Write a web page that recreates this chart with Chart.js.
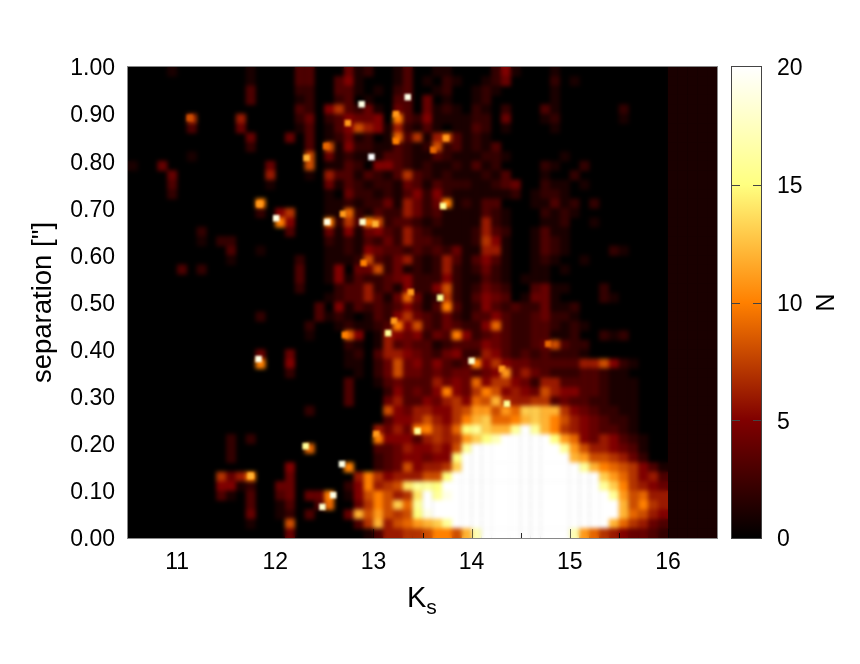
<!DOCTYPE html>
<html>
<head>
<meta charset="utf-8">
<script src="https://cdn.jsdelivr.net/npm/chart.js@4"></script>
<style>
    body { margin: 0; background: #fff; }
    #wrap { position: relative; width: 860px; height: 664px; font-family: "Liberation Sans", sans-serif; color: #000; }
    canvas { position: absolute; top: 0; }
    #xTitle { position: absolute; left: 407px; top: 578px; font-size: 29px; line-height: 38px; }
    #xTitle sub { font-size: 21px; line-height: 0; }
</style>
</head>
<body>
<div id="wrap">
    <canvas id="map" width="860" height="664" style="left:0"></canvas>
    <canvas id="bar" width="140" height="664" style="left:720px"></canvas>
    <div id="xTitle">K<sub>s</sub></div>
</div>
<script>
const kTicks = [11, 12, 13, 14, 15, 16];
const sepTicks = [0, 0.1, 0.2, 0.3, 0.4, 0.5, 0.6, 0.7, 0.8, 0.9, 1];
const nTicks = [0, 5, 10, 15, 20];

const kStart = 10.5;
const kEnd = 16;
const kStep = 0.1;
const sepStep = 0.02;

// counts per cell, top row first, one base-21 digit per cell (a=10 ... k=20)
const nRows = [
    "0000100000 0010000330 0041200130 0110000251 0001000000 00000",
    "0000000000 0010000330 0351000130 1021001240 0002010000 00000",
    "0000000000 0030000220 0331010230 0120012100 0001000000 00000",
    "0000000000 0030000120 0230100330 4010012000 0001000000 00000",
    "0000000000 0000000320 5732410430 4121021020 0031000000 20000",
    "0000007000 0600000240 2354450a32 5111122040 0012000000 10000",
    "0000003000 0400000130 1358651621 3101132010 0001000000 00000",
    "0000000000 0040004030 1241201937 1683121000 0000000000 00000",
    "0000000000 0020000030 8152211321 2823121300 0000000000 00000",
    "0000001000 0000000080 4121113321 1321112210 0000100000 00000",
    "1004000000 0000400080 1132055321 2112131200 0021002000 00000",
    "0000400000 0000600010 6331321373 2121112130 0010020000 00000",
    "0000300000 0000100000 4132122143 1322211234 0021101000 00000",
    "0000200000 0000000000 1042212135 2521111112 0122100000 00000",
    "0000000000 000a000000 1121224164 24a1213300 0113120200 00000",
    "0000000000 0002057000 1192132264 2311113210 0021210000 00000",
    "0000000000 00000a5000 a273a82332 1211116210 0011200100 00000",
    "0000000200 0000003000 4151453263 2111126320 0131100000 00000",
    "0000000102 2000000000 2121324263 3211127510 0132100000 00000",
    "0000000000 3001000000 1121543323 2324116610 0132100002 10000",
    "0000000000 1000000200 1112832462 1263135310 0121001000 00000",
    "0000030200 0000000300 1504482412 1262124210 0110100000 00000",
    "0000000000 0000000300 1513223452 2252113210 1110000000 00000",
    "0000000000 0000000200 0233623152 2582124320 0341100020 00000",
    "0000000000 0000000000 1233631494 1272135430 1441000021 00000",
    "0000000000 0000000003 0513232353 13a3125323 2241120000 00000",
    "0000000000 0002000003 1210132574 3242133532 2342210000 00000",
    "0000000000 0000000020 0121123a58 3243225932 2332121000 00000",
    "0000000000 0000000010 0095016545 243a523432 2331120021 20000",
    "0000000000 0000000000 0021016343 3123335432 2348322000 00000",
    "0000000000 0004004000 0012036654 3245226532 3232221000 00000",
    "0000000000 000a005000 0011024845 35323a5754 4333336685 21000",
    "0000000000 0000002000 0001024844 34344345b4 6432223321 10000",
    "0000000000 0000000000 0030013433 3645495775 4266333321 11000",
    "0000000000 0000000000 0030002534 35a547a856 5486553321 11000",
    "0000000000 0000000000 0030004633 5467598c76 6773433221 11000",
    "0000000000 0000000020 0000008546 65578bb8b9 ddcc754322 11000",
    "0000000000 0000000000 0000003556 8657acd99a cdca865432 21000",
    "0000000000 0000000000 000006464a a769fgdccg kgca765433 21000",
    "0000000000 2020000000 00000a5553 6767bdfhkk kkkfb95465 32100",
    "0000000000 2000000090 0000033465 5658gkkkkk kkkkgb8665 43100",
    "0000000000 2000000000 0000023455 455fkkkkkk kkkkkcb887 64200",
    "0000000000 0000005000 00a0023485 667dkkkkkk kkkkkkgca9 87531",
    "0000000007 46a0004000 0006a75666 88fkkkkkkk kkkkkkkkdb 97563",
    "0000000005 5120044000 0025a678eg gfkkkkkkkk kkkkkkkkgd a7654",
    "0000000003 1030034044 a0158a867e kgjkkkkkkk kkkkkkkkkg b8966",
    "0000000000 0030013003 90047a8d9g kkkkkkkkkk kkkkkkkkkk c8a76",
    "0000000000 0040012030 004c8b878f jkkkkkkkkk kkkkkkkkkk c9865",
    "0000000000 0010008000 00037c689b cdgkkkkkkk kkkkkkkkkc 97643",
    "0000000000 0000004000 0000136677 8aa8chkkkk kkkkkhb976 54432"
];

// the small bright detections, read one by one
const spotK = [11.13, 12.32, 12.52, 12.74, 12.88, 13.35, 13.23, 13.23, 12.98, 13.74, 13.61, 13.71, 11.84, 12.01, 12.53, 12.69, 12.89, 13.02, 12.90, 13.38, 13.68, 11.83, 12.71, 13.21, 13.15, 13.03, 13.45, 12.31, 12.68, 12.59, 12.48, 11.75, 14.00, 14.36, 14.31, 14.78];
const spotSep = [0.892, 0.807, 0.832, 0.881, 0.921, 0.936, 0.900, 0.843, 0.809, 0.849, 0.824, 0.705, 0.709, 0.679, 0.671, 0.688, 0.671, 0.667, 0.584, 0.522, 0.510, 0.380, 0.431, 0.461, 0.435, 0.221, 0.227, 0.195, 0.157, 0.091, 0.066, 0.132, 0.376, 0.285, 0.359, 0.412];
const spotN = [8, 12, 9, 11, 19, 19, 11, 10, 20, 11, 9, 16, 11, 19, 19, 11, 18, 12, 10, 11, 16, 19, 10, 11, 16, 11, 16, 16, 19, 19, 18, 12, 18, 16, 11, 9];

// no data beyond the survey limit, a flat N=1 band
const bandK = [16.05, 16.15, 16.25, 16.35, 16.45];
const bandN = 1;

function hot(n) {
    const x = Math.min(n / 20, 1);
    const c = v => Math.round(255 * Math.max(0, Math.min(1, v)));
    return `rgb(${c(2 * x)},${c(2 * x - 0.5)},${c(2 * x - 1)})`;
}

const cells = [];
nRows.forEach((row, r) => {
    row.replace(/ /g, "").split("").forEach((ch, c) => {
        const n = parseInt(ch, 21);
        if (n > 0) cells.push({ x: kStart + (c + 0.5) * kStep, y: 1 - (r + 0.5) * sepStep, n: n });
    });
});

const band = [];
nRows.forEach((row, r) => {
    bandK.forEach(k => band.push({ x: k, y: 1 - (r + 0.5) * sepStep, n: bandN }));
});

const spots = spotK.map((k, i) => ({ x: k, y: spotSep[i], n: spotN[i] }));

function pointSet(data, radius, order, blur, softLayer) {
    return {
        data: data,
        pointStyle: "rect",
        pointRadius: radius,
        pointBorderWidth: 0,
        pointBackgroundColor: data.map(p => hot(p.n)),
        order: order,
        blur: blur,
        softLayer: softLayer
    };
}

// nudge y tick labels down, the reference sits a bit below the tick
function lowerLabels(scale) {
    if (scale.lowered) return;
    scale.lowered = true;
    const draw = scale.drawLabels;
    scale.drawLabels = function (area) {
        scale.ctx.save();
        scale.ctx.translate(0, 2);
        draw.call(scale, area);
        scale.ctx.restore();
    };
}

// gnuplot's interpolated map: the black base goes under everything, the whole cell layer gets blurred once
const softCells = {
    id: "softCells",
    beforeDatasetsDraw(chart) {
        const a = chart.chartArea;
        chart.ctx.fillStyle = "#000";
        chart.ctx.fillRect(a.left, a.top, a.right - a.left, a.bottom - a.top);
    },
    beforeDatasetDraw(chart, args) {
        chart.ctx.filter = args.meta.controller.getDataset().blur || "none";
    },
    afterDatasetDraw(chart, args) {
        const { ctx, chartArea: a, scales } = chart;
        ctx.filter = "none";
        if (!args.meta.controller.getDataset().softLayer) return;
        const w = scales.x.getPixelForValue(kEnd) - a.left;
        const h = a.bottom - a.top;
        ctx.save();
        ctx.beginPath();
        ctx.rect(a.left, a.top, w, h);
        ctx.clip();
        ctx.filter = "blur(2px)";
        ctx.drawImage(chart.canvas, a.left, a.top, w, h, a.left, a.top, w, h);
        ctx.restore();
    }
};

const frameTicks = {
    id: "frameTicks",
    afterDatasetsDraw(chart) {
        const { ctx, chartArea: a, scales } = chart;
        ctx.save();
        ctx.globalCompositeOperation = "multiply";
        ctx.strokeStyle = "#666";
        ctx.lineWidth = 1;
        ctx.beginPath();
        kTicks.forEach(k => {
            [k, k - 0.5, k + 0.5].forEach((v, i) => {
                const px = Math.round(scales.x.getPixelForValue(v)) + 0.5;
                const len = i === 0 ? 9 : 5;
                ctx.moveTo(px, a.bottom); ctx.lineTo(px, a.bottom - len);
            });
        });
        ctx.stroke();
        ctx.globalCompositeOperation = "source-over";
        ctx.strokeStyle = "#888";
        ctx.strokeRect(a.left - 0.5, a.top - 0.5, a.right - a.left + 1, a.bottom - a.top + 1);
        ctx.restore();
    }
};

const tickFont = { family: "'Liberation Sans', sans-serif", size: 23 };

new Chart(document.getElementById("map"), {
    type: "scatter",
    data: {
        datasets: [
            pointSet(band, 7.1, 3, "none", false),
            pointSet(cells, 7.1, 2, "none", true),
            pointSet(spots, 4.6, 1, "blur(1.2px)", false)
        ]
    },
    options: {
        responsive: false,
        animation: false,
        events: [],
        layout: { padding: { top: 67, right: 143, left: 0, bottom: 0 } },
        plugins: { legend: { display: false }, tooltip: { enabled: false } },
        scales: {
            x: {
                type: "linear",
                min: 10.5,
                max: 16.5,
                grid: { display: false, drawTicks: false },
                border: { display: false },
                afterBuildTicks: s => { s.ticks = kTicks.map(v => ({ value: v })); },
                afterFit: s => { s.height = 126; },
                ticks: { color: "#000", font: tickFont, padding: 11, maxRotation: 0 }
            },
            y: {
                min: 0,
                max: 1,
                grid: { display: false, drawTicks: false },
                border: { display: false },
                afterBuildTicks: s => { s.ticks = sepTicks.map(v => ({ value: v })); },
                afterFit: s => { s.width = 128; lowerLabels(s); },
                ticks: { color: "#000", font: tickFont, padding: 13, callback: v => v.toFixed(2) },
                title: {
                    display: true,
                    text: 'separation ["]',
                    color: "#000",
                    font: { family: "'Liberation Sans', sans-serif", size: 27.5 },
                    padding: { top: 27, bottom: 0 }
                }
            }
        }
    },
    plugins: [softCells, frameTicks]
});

const barFrame = {
    id: "barFrame",
    afterDatasetsDraw(chart) {
        const { ctx, chartArea: a, scales } = chart;
        ctx.save();
        ctx.strokeStyle = "#444";
        ctx.lineWidth = 1;
        ctx.strokeRect(a.left - 0.5, a.top - 0.5, a.right - a.left + 1, a.bottom - a.top + 1);
        ctx.beginPath();
        nTicks.slice(1, -1).forEach(n => {
            const py = Math.round(scales.y.getPixelForValue(n)) + 0.5;
            ctx.moveTo(a.left, py); ctx.lineTo(a.left + 8, py);
            ctx.moveTo(a.right, py); ctx.lineTo(a.right - 8, py);
        });
        ctx.stroke();
        ctx.restore();
    }
};

new Chart(document.getElementById("bar"), {
    type: "bar",
    data: {
        labels: ["N"],
        datasets: [{
            data: [[nTicks[0], nTicks[nTicks.length - 1]]],
            barPercentage: 1,
            categoryPercentage: 1,
            backgroundColor: c => {
                const a = c.chart.chartArea;
                if (!a) return hot(10);
                const g = c.chart.ctx.createLinearGradient(0, a.bottom, 0, a.top);
                nTicks.forEach((n, i) => g.addColorStop(i / (nTicks.length - 1), hot(n)));
                return g;
            }
        }]
    },
    options: {
        responsive: false,
        animation: false,
        events: [],
        layout: { padding: { top: 67, left: 12, right: 0, bottom: 126 } },
        plugins: { legend: { display: false }, tooltip: { enabled: false } },
        scales: {
            x: { display: false },
            y: {
                position: "right",
                min: 0,
                max: 20,
                grid: { display: false, drawTicks: false },
                border: { display: false },
                afterBuildTicks: s => { s.ticks = nTicks.map(v => ({ value: v })); },
                afterFit: s => { s.width = 99; lowerLabels(s); },
                ticks: { color: "#000", font: tickFont, padding: 16 },
                title: {
                    display: true,
                    text: "N",
                    color: "#000",
                    font: { family: "'Liberation Sans', sans-serif", size: 25 },
                    padding: { top: 22, bottom: 0 }
                }
            }
        }
    },
    plugins: [barFrame]
});
</script>
</body>
</html>
